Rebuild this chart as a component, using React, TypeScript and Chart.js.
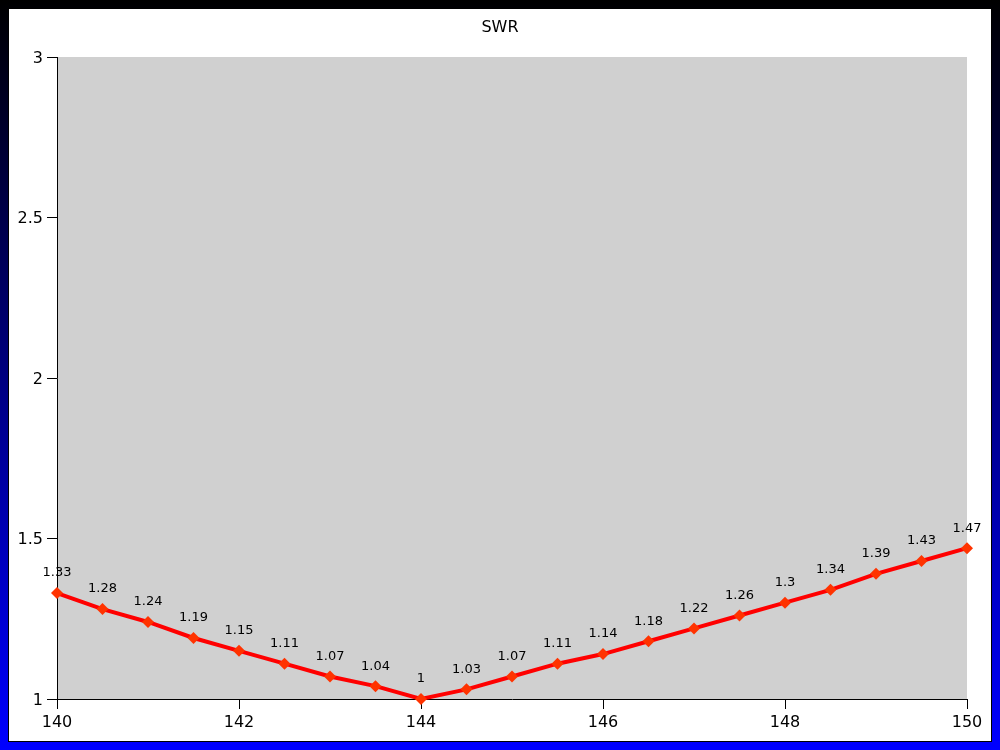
import React, { useEffect, useRef } from "react";
import { Chart, registerables } from "chart.js";

Chart.register(...registerables);

const chartTitle = "SWR";
const frequencies = [
  140, 140.5, 141, 141.5, 142, 142.5, 143, 143.5, 144, 144.5, 145,
  145.5, 146, 146.5, 147, 147.5, 148, 148.5, 149, 149.5, 150,
];
const swrValues = [
  1.33, 1.28, 1.24, 1.19, 1.15, 1.11, 1.07, 1.04, 1, 1.03, 1.07,
  1.11, 1.14, 1.18, 1.22, 1.26, 1.3, 1.34, 1.39, 1.43, 1.47,
];
const xTickValues = [140, 142, 144, 146, 148, 150];
const yTickValues = [1, 1.5, 2, 2.5, 3];

const FONT = '"DejaVu Sans", sans-serif';

const backgroundAndLabels = {
  id: "backgroundAndLabels",
  beforeDraw(chart: any) {
    const { ctx, chartArea } = chart;
    ctx.save();
    ctx.fillStyle = "#d0d0d0";
    ctx.fillRect(
      chartArea.left,
      chartArea.top,
      chartArea.right - chartArea.left,
      chartArea.bottom - chartArea.top
    );
    ctx.fillStyle = "#000";
    ctx.textAlign = "center";
    ctx.textBaseline = "middle";
    ctx.font = `16px ${FONT}`;
    ctx.fillText(chartTitle, chart.width / 2, 19);
    ctx.font = `13px ${FONT}`;
    const meta = chart.getDatasetMeta(0);
    meta.data.forEach((pt: any, i: number) => {
      ctx.fillText(String(swrValues[i]), pt.x, pt.y - 20);
    });
    ctx.restore();
  },
};

export default function App() {
  const canvasRef = useRef<HTMLCanvasElement | null>(null);

  useEffect(() => {
    if (!canvasRef.current) return;
    const chart = new Chart(canvasRef.current, {
      type: "line",
      data: {
        datasets: [
          {
            label: chartTitle,
            data: frequencies.map((f, i) => ({ x: f, y: swrValues[i] })),
            borderColor: "#ff0000",
            borderWidth: 4,
            tension: 0,
            pointStyle: "rectRot",
            pointRadius: 6,
            pointBackgroundColor: "#ff3300",
            pointBorderColor: "#ff3300",
            pointBorderWidth: 0,
            clip: false as any,
          },
        ],
      },
      options: {
        responsive: false,
        animation: false,
        layout: { padding: { top: 48, right: 24, left: 0, bottom: 0 } },
        plugins: {
          legend: { display: false },
          title: { display: false },
          tooltip: { enabled: false },
        },
        scales: {
          x: {
            type: "linear",
            min: 140,
            max: 150,
            afterBuildTicks(scale: any) {
              scale.ticks = xTickValues.map((v) => ({ value: v }));
            },
            afterFit(scale: any) {
              scale.height = 42;
              scale.paddingLeft = 0;
              scale.paddingRight = 0;
            },
            grid: {
              drawOnChartArea: false,
              drawTicks: true,
              tickLength: 10,
              color: "#000",
            },
            border: { color: "#000", width: 1 },
            ticks: {
              color: "#000",
              font: { family: FONT, size: 16 },
              padding: 4,
              maxRotation: 0,
              autoSkip: false,
              callback: (v: any) => String(v),
            },
          },
          y: {
            type: "linear",
            min: 1,
            max: 3,
            afterBuildTicks(scale: any) {
              scale.ticks = yTickValues.map((v) => ({ value: v }));
            },
            afterFit(scale: any) {
              scale.width = 48;
              scale.paddingTop = 0;
              scale.paddingBottom = 0;
            },
            grid: {
              drawOnChartArea: false,
              drawTicks: true,
              tickLength: 10,
              color: "#000",
            },
            border: { color: "#000", width: 1 },
            ticks: {
              color: "#000",
              font: { family: FONT, size: 16 },
              padding: 4,
              labelOffset: 1.5,
              autoSkip: false,
              callback: (v: any) => String(v),
            },
          },
        },
      },
      plugins: [backgroundAndLabels],
    });
    return () => chart.destroy();
  }, []);

  return (
    <div
      style={{
        position: "fixed",
        inset: 0,
        background: "linear-gradient(to bottom, #000000, #0000ff)",
      }}
    >
      <div
        style={{
          position: "absolute",
          left: 8,
          top: 8,
          width: 982,
          height: 732,
          border: "1px solid #000",
          background: "#fff",
        }}
      >
        <canvas
          ref={canvasRef}
          width={982}
          height={732}
          style={{ display: "block", width: 982, height: 732 }}
        />
      </div>
    </div>
  );
}
